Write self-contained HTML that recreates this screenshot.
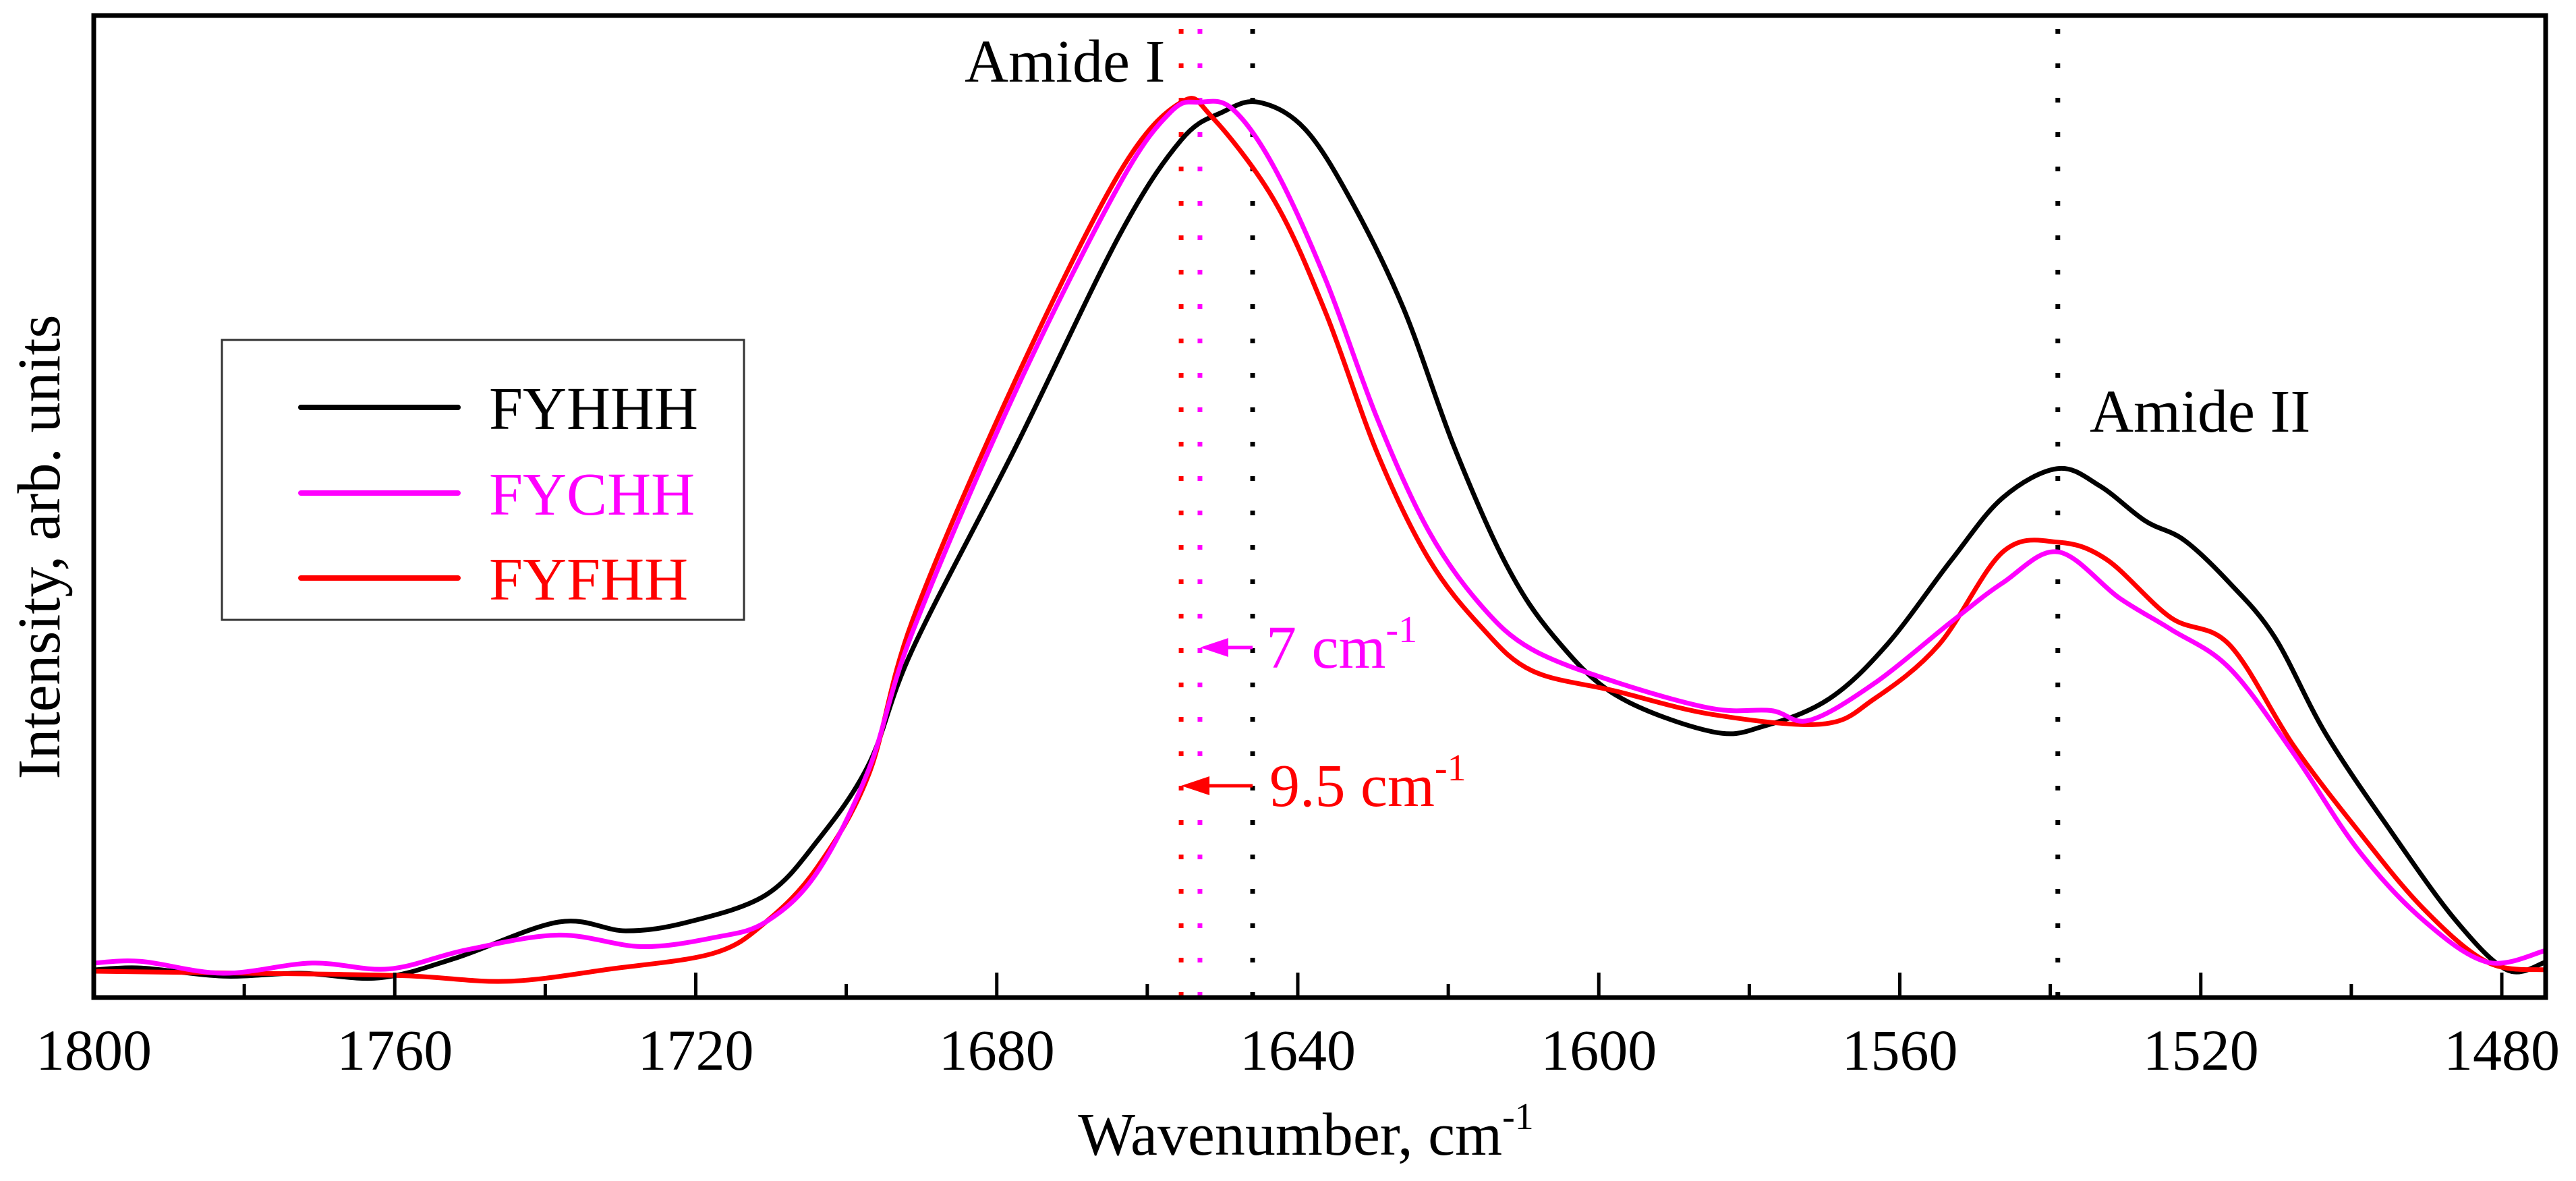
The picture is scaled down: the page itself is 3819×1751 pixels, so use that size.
<!DOCTYPE html>
<html><head><meta charset="utf-8"><style>
html,body{margin:0;padding:0;background:#fff;}
svg{display:block;font-family:"Liberation Serif",serif;}
</style></head><body>
<svg id="chart" width="3819" height="1751" viewBox="0 0 3819 1751">
<defs><clipPath id="plotclip"><rect x="139" y="23" width="3635" height="1456"/></clipPath></defs>
<rect x="0" y="0" width="3819" height="1751" fill="#fff"/>
<g id="marks" clip-path="url(#plotclip)"></g>
<g id="axes"></g>
</svg>
<script>
const xTicks = [1800,1760,1720,1680,1640,1600,1560,1520,1480];
const xMinor = [1780,1740,1700,1660,1620,1580,1540,1500];
const markerLines = [1655.5,1653,1646,1539];
const blackW = [1800,1793.7,1782.8,1772.5,1762,1751.9,1738.2,1729.3,1721,1710.7,1703.9,1697,1691.2,1677.5,1663.7,1655.5,1650,1645.2,1639.1,1632.9,1626,1619.2,1612.3,1606,1597.7,1584.9,1578,1569.4,1561.7,1553.1,1546.3,1539,1533.4,1527.4,1522.2,1516.2,1510.2,1503.4,1494.8,1486.2,1479.3,1474.2];
const blackI = [16.8,18,13,14.8,12,24,46,40.6,46,62.4,95,142,212,335,464,522,539,545,529,485,420,335,263.6,220,184,161.8,165.3,181.8,214.8,266.6,304.3,322,311.4,290.2,278.4,252.5,219.5,160.6,101.6,47.4,16.8,21.5];
const magentaW = [1800,1793.7,1782.8,1771,1760.8,1750.5,1738.2,1727.2,1717.6,1710.7,1703.9,1697,1691.2,1677.5,1663.7,1656.9,1653.1,1648.7,1643.1,1636.3,1629.4,1622.6,1615.7,1608.9,1597.7,1584.9,1577.1,1572,1563.4,1553.1,1546.3,1539,1530.8,1524,1516.2,1507.7,1499.1,1490.5,1481.9,1474.2];
const magentaI = [21,22,14.8,21,17.4,29,38,31,36.5,46,76,139,222.5,369,495,539,545,541,505,437,352,284,239,212,192,175.9,174.7,168.8,191.2,228.9,252.5,271.3,243.1,224.2,200.6,148.8,89.9,47.4,21.5,28.6];
const redW = [1800,1779.3,1758.8,1745,1731.3,1717.6,1710.7,1703.9,1697,1691.2,1677.5,1663.7,1655.5,1651.4,1643.1,1636.3,1629.4,1622.6,1615.7,1608.9,1597.7,1584.9,1570.3,1563.4,1554.8,1546.3,1539,1532.5,1524,1516.2,1507.7,1499.1,1490.5,1481.9,1474.2];
const redI = [16,14.8,13.3,9.9,17.4,27,46,79,136,229.5,376,502,545,536,485,417,331,267,226,199,186.5,172.3,166.5,181.8,214.8,271.3,277.2,266.6,231.3,214.8,153.5,101.6,54.5,21.5,16.8];

const NS = "http://www.w3.org/2000/svg";
const L=139,R=3774,T=23,B=1479;
function xs(w){return L+(1800-w)*(3709-139)/320;}
function ys(v){return B-v*2.4356;}
function mk(tag,attrs,parent){const e=document.createElementNS(NS,tag);for(const k in attrs)e.setAttribute(k,attrs[k]);parent.appendChild(e);return e;}
const marks=document.getElementById('marks'), axes=document.getElementById('axes');

function pathFor(W,I){
  const p=W.map((w,i)=>[xs(w),ys(I[i])]);
  let d="M"+p[0][0].toFixed(1)+","+p[0][1].toFixed(1);
  for(let i=0;i<p.length-1;i++){
    const p0=p[Math.max(0,i-1)],p1=p[i],p2=p[i+1],p3=p[Math.min(p.length-1,i+2)];
    const c1=[p1[0]+(p2[0]-p0[0])/6,p1[1]+(p2[1]-p0[1])/6];
    const c2=[p2[0]-(p3[0]-p1[0])/6,p2[1]-(p3[1]-p1[1])/6];
    d+=" C"+c1[0].toFixed(1)+","+c1[1].toFixed(1)+" "+c2[0].toFixed(1)+","+c2[1].toFixed(1)+" "+p2[0].toFixed(1)+","+p2[1].toFixed(1);
  }
  return d;
}

// dotted marker lines
const mColors=['#ff0000','#ff00ff','#000','#000'];
markerLines.forEach((w,i)=>{
  const ln=mk('line',{x1:xs(w),x2:xs(w),y1:T+20,y2:B,stroke:mColors[i],'stroke-width':7,'stroke-dasharray':'7 44'},marks);
  
  
});

const series=[[blackW,blackI,'#000','series-fyhhh'],[redW,redI,'#ff0000','series-fyfhh'],[magentaW,magentaI,'#ff00ff','series-fychh']];
series.forEach(s=>{
  const p=mk('path',{d:pathFor(s[0],s[1]),fill:'none',stroke:s[2],'stroke-width':7,'stroke-linejoin':'round'},marks);
  
  
});

// shift arrows
function arrow(y,toW,color,name){
  const x1=xs(markerLines[2]),x2=xs(toW);
  const g=mk('g',{},marks);
  
  
  mk('line',{x1:x1,x2:x2+30,y1:y,y2:y,stroke:color,'stroke-width':5},g);
  mk('polygon',{points:(x2)+","+y+" "+(x2+42)+","+(y-14)+" "+(x2+42)+","+(y+14),fill:color},g);
}
arrow(960,markerLines[1],'#ff00ff','shift-arrow-7');
arrow(1165,markerLines[0],'#ff0000','shift-arrow-9-5');

// frame
const fr=mk('rect',{x:L,y:T,width:R-L,height:B-T,fill:'none',stroke:'#000','stroke-width':7},axes);



xTicks.forEach(w=>{
  const t=mk('line',{x1:xs(w),x2:xs(w),y1:B,y2:B-37,stroke:'#000','stroke-width':5},axes);
  
  
  const lb=mk('text',{x:xs(w),y:1586,'font-size':86,'text-anchor':'middle',fill:'#000'},axes);
  lb.textContent=w;
  
  
});
xMinor.forEach(w=>{
  const t=mk('line',{x1:xs(w),x2:xs(w),y1:B,y2:B-20,stroke:'#000','stroke-width':5},axes);
  
  
});
</script>
<svg width="0" height="0" style="position:absolute"></svg>
<script>
(function(){
const svg=document.getElementById('chart');
const NS="http://www.w3.org/2000/svg";
const extra = `
<text x="1936" y="1712" font-size="90" text-anchor="middle">Wavenumber, cm<tspan dy="-38" font-size="56">-1</tspan></text>
<text transform="translate(88,811) rotate(-90)" font-size="90" text-anchor="middle">Intensity, arb. units</text>
<text x="1430" y="121" font-size="90">Amide I</text>
<text x="3098" y="640" font-size="90">Amide II</text>
<text x="1877" y="990" font-size="90" fill="#ff00ff">7 cm<tspan dy="-38" font-size="56">-1</tspan></text>
<text x="1882" y="1195" font-size="90" fill="#ff0000">9.5 cm<tspan dy="-38" font-size="56">-1</tspan></text>
<g>
<rect x="329" y="504" width="774" height="415" fill="#fff" stroke="#333" stroke-width="3"/>
<g><line x1="446" x2="679" y1="604" y2="604" stroke="#000" stroke-width="8" stroke-linecap="round"/><text x="725" y="636" font-size="90" fill="#000">FYHHH</text></g>
<g><line x1="446" x2="679" y1="731" y2="731" stroke="#ff00ff" stroke-width="8" stroke-linecap="round"/><text x="725" y="763" font-size="90" fill="#ff00ff">FYCHH</text></g>
<g><line x1="446" x2="679" y1="857" y2="857" stroke="#ff0000" stroke-width="8" stroke-linecap="round"/><text x="725" y="889" font-size="90" fill="#ff0000">FYFHH</text></g>
</g>`;
const g=document.createElementNS(NS,'g');
g.innerHTML=extra;
svg.appendChild(g);


})();
</script>
</body></html>
